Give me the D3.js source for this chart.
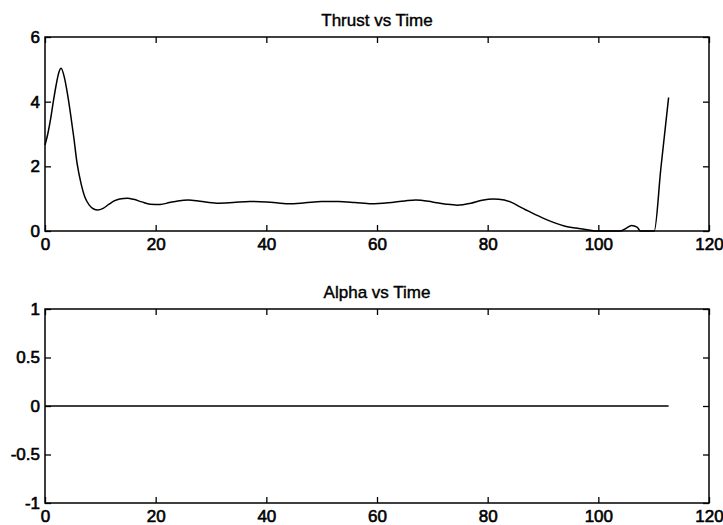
<!DOCTYPE html>
<html>
<head>
<meta charset="utf-8">
<script src="https://cdn.jsdelivr.net/npm/d3@7/dist/d3.min.js"></script>
<style>
  html, body { margin: 0; padding: 0; background: #fff; }
  svg { display: block; }
  .tick text { font-family: "Liberation Sans", Arial, sans-serif; font-size: 17px; fill: #000; stroke: #000; stroke-width: 0.6px; }
  .title { font-family: "Liberation Sans", Arial, sans-serif; font-size: 17px; fill: #000; stroke: #000; stroke-width: 0.4px; }
</style>
</head>
<body>
<script>
// Thrust history (time in s, thrust)
const thrustTime = [0, 0.5, 1.0, 1.5, 2.0, 2.5, 2.9, 3.5, 4.0, 4.6, 5.2, 5.8, 6.5, 7.2, 8.0, 8.8, 9.5,
  10.5, 11.5, 12.5, 13.5, 14.9, 16, 17.5, 19, 20.8, 22.5, 24, 25.9, 28, 31, 34, 37, 40, 44, 47, 50,
  53, 56, 59, 62, 65, 67, 70, 72.5, 74.5, 77, 79, 81, 83, 84.5, 86, 88, 90, 92, 94, 96, 98,
  99.5, 104, 105, 106, 107, 107.6, 110.1, 111.3, 112.7];
const thrustValue = [2.66, 3.0, 3.45, 4.0, 4.5, 4.9, 5.03, 4.75, 4.3, 3.64, 2.9, 2.09, 1.48, 1.05, 0.8, 0.68, 0.65,
  0.7, 0.82, 0.93, 0.99, 1.01, 0.98, 0.9, 0.83, 0.82, 0.88, 0.93, 0.96, 0.92, 0.86, 0.88, 0.91, 0.9, 0.84, 0.87, 0.91,
  0.91, 0.88, 0.84, 0.87, 0.93, 0.96, 0.9, 0.83, 0.8, 0.86, 0.95, 0.99, 0.96, 0.87, 0.73, 0.56, 0.4, 0.26, 0.15, 0.09, 0.04,
  0, 0, 0.08, 0.17, 0.12, 0, 0, 1.94, 4.13];

// Angle of attack history
const alphaTime = [0, 112.7];
const alphaValue = [0, 0];

// Tick values and labels
const xTicks = [0, 20, 40, 60, 80, 100, 120];
const thrustTicks = [0, 2, 4, 6];
const alphaTicks = [-1, -0.5, 0, 0.5, 1];
const alphaTickLabels = ["-1", "-0.5", "0", "0.5", "1"];

const W = 723, H = 525;
const svg = d3.select("body").append("svg").attr("width", W).attr("height", H);
svg.append("rect").attr("width", W).attr("height", H).attr("fill", "#fff");

const left = 45, right = 709;

function panel(cfg) {
  const x = d3.scaleLinear().domain([0, 120]).range([left, right]);
  const y = d3.scaleLinear().domain(cfg.yDomain).range([cfg.bottom, cfg.top]);
  const g = svg.append("g");
  const tick = 6;

  // bottom axis with labels, ticks pointing inward
  g.append("g").attr("transform", `translate(0,${cfg.bottom})`)
    .call(d3.axisBottom(x).tickValues(xTicks).tickSizeInner(-tick).tickSizeOuter(0).tickPadding(7).tickFormat(d3.format("d")));
  // top mirror ticks
  g.append("g").attr("transform", `translate(0,${cfg.top})`)
    .call(d3.axisTop(x).tickValues(xTicks).tickSizeInner(-tick).tickSizeOuter(0).tickFormat(""));
  // left axis with labels
  g.append("g").attr("transform", `translate(${left},0)`)
    .call(d3.axisLeft(y).tickValues(cfg.yTicks).tickSizeInner(-tick).tickSizeOuter(0).tickPadding(5)
      .tickFormat((d, i) => cfg.yLabels[i]));
  // right mirror ticks
  g.append("g").attr("transform", `translate(${right},0)`)
    .call(d3.axisRight(y).tickValues(cfg.yTicks).tickSizeInner(-tick).tickSizeOuter(0).tickFormat(""));

  g.selectAll(".domain").remove();
  g.selectAll(".tick line").attr("stroke", "#000").attr("stroke-width", 1.3);

  // frame
  g.append("rect")
    .attr("x", left).attr("y", cfg.top)
    .attr("width", right - left).attr("height", cfg.bottom - cfg.top)
    .attr("fill", "none").attr("stroke", "#000").attr("stroke-width", 1.5);

  // data line
  const line = d3.line().x(d => x(d[0])).y(d => y(d[1])).curve(d3.curveMonotoneX);
  g.append("path")
    .datum(cfg.t.map((t, i) => [t, cfg.v[i]]))
    .attr("d", line)
    .attr("fill", "none").attr("stroke", "#000").attr("stroke-width", 1.5)
    .attr("stroke-linejoin", "round");

  // title
  g.append("text").attr("class", "title")
    .attr("x", (left + right) / 2).attr("y", cfg.top - 11)
    .attr("text-anchor", "middle").text(cfg.title);
}

panel({
  top: 37, bottom: 231, yDomain: [0, 6], yTicks: thrustTicks,
  yLabels: thrustTicks.map(String), t: thrustTime, v: thrustValue, title: "Thrust vs Time"
});
panel({
  top: 309, bottom: 503, yDomain: [-1, 1], yTicks: alphaTicks,
  yLabels: alphaTickLabels, t: alphaTime, v: alphaValue, title: "Alpha vs Time"
});
</script>
</body>
</html>
